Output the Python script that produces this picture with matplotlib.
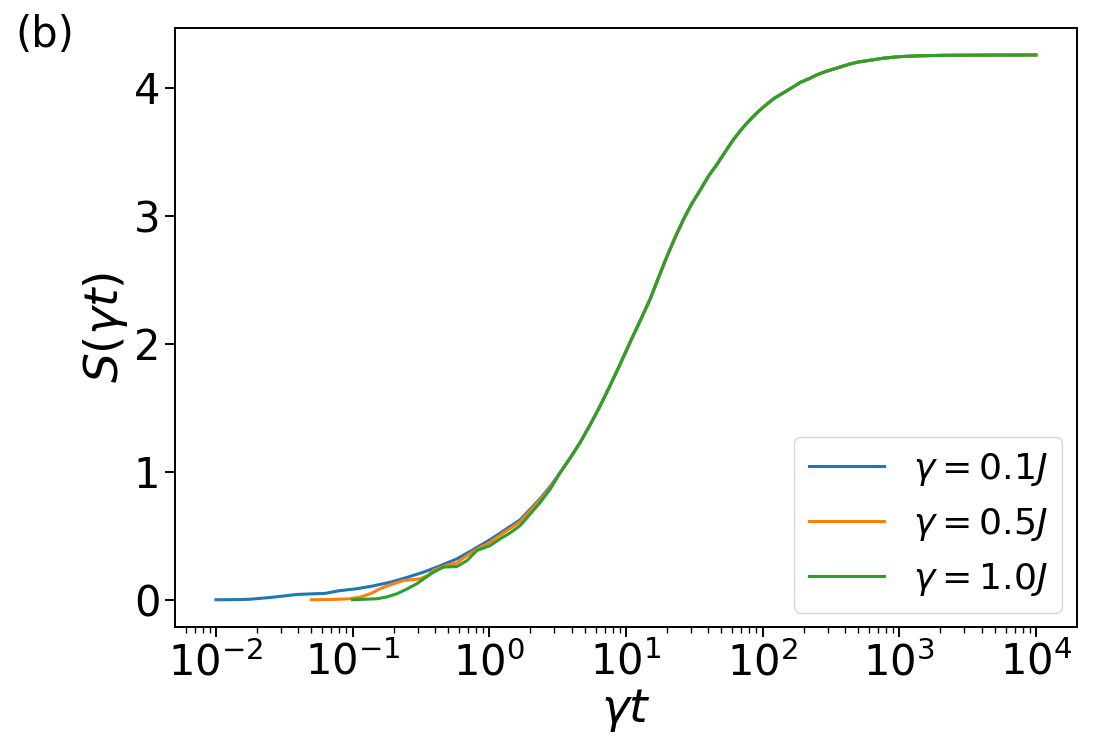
import numpy as np
import matplotlib
matplotlib.use("Agg")
import matplotlib.pyplot as plt
from matplotlib.ticker import LogLocator

# log10(gamma*t) positions and S values
# part where the three curves lie on top of each other
shared_logx = [0.52, 0.6, 0.666, 0.74, 0.812, 0.885, 0.958, 1.03, 1.105, 1.178,
               1.24, 1.30, 1.36, 1.421, 1.48, 1.544, 1.605, 1.666, 1.727, 1.787,
               1.85, 1.909, 1.97, 2.03, 2.09, 2.153, 2.215, 2.275, 2.34, 2.397,
               2.46, 2.519, 2.58, 2.64, 2.70, 2.763, 2.884, 3.0, 3.13, 3.3,
               3.6, 4.0]
shared_s = [0.995, 1.12, 1.23, 1.37, 1.515, 1.675, 1.84, 2.01, 2.18, 2.35,
            2.52, 2.68, 2.83, 2.97, 3.09, 3.20, 3.31, 3.40, 3.50, 3.595,
            3.68, 3.75, 3.815, 3.87, 3.92, 3.96, 4.00, 4.04, 4.07, 4.10,
            4.125, 4.145, 4.165, 4.185, 4.20, 4.21, 4.23, 4.242, 4.248, 4.252,
            4.254, 4.255]

blue_logx = [-2.0, -1.85, -1.75, -1.6, -1.5, -1.4, -1.3, -1.2, -1.1, -0.97,
             -0.85, -0.72, -0.6, -0.48, -0.36, -0.236, -0.12, 0.007, 0.1, 0.227,
             0.373, 0.45]
blue_s = [0.0, 0.001, 0.004, 0.018, 0.03, 0.042, 0.046, 0.05, 0.07, 0.086,
          0.108, 0.138, 0.175, 0.216, 0.265, 0.32, 0.39, 0.47, 0.535, 0.625,
          0.79, 0.89]

orange_logx = [-1.301, -1.15, -1.017, -0.94, -0.87, -0.8, -0.724, -0.627, -0.505, -0.45,
               -0.407, -0.31, -0.236, -0.163, -0.08, 0.007, 0.1, 0.227, 0.373, 0.45]
orange_s = [0.0, 0.002, 0.008, 0.022, 0.047, 0.085, 0.117, 0.15, 0.164, 0.19,
            0.23, 0.27, 0.288, 0.346, 0.40, 0.45, 0.52, 0.61, 0.78, 0.88]

green_logx = [-1.0, -0.82, -0.75, -0.675, -0.6, -0.53, -0.47, -0.407, -0.334, -0.236,
              -0.163, -0.09, 0.007, 0.08, 0.15, 0.227, 0.3, 0.373, 0.45]
green_s = [0.0, 0.008, 0.022, 0.047, 0.085, 0.125, 0.17, 0.216, 0.255, 0.26,
           0.306, 0.385, 0.423, 0.476, 0.52, 0.58, 0.67, 0.76, 0.87]

xticks = [1e-2, 1e-1, 1e0, 1e1, 1e2, 1e3, 1e4]
yticks = [0, 1, 2, 3, 4]

labels = [r"$\gamma = 0.1J$", r"$\gamma = 0.5J$", r"$\gamma = 1.0J$"]
colors = ["#1f77b4", "#ff7f0e", "#2ca02c"]

fig = plt.figure(figsize=(11, 7.5), dpi=100)
ax = fig.add_axes([0.159, 0.164, 0.82, 0.799])

series = [(blue_logx, blue_s), (orange_logx, orange_s), (green_logx, green_s)]
for (lx, s), lab, c in zip(series, labels, colors):
    x = 10 ** np.array(lx + shared_logx)
    ax.plot(x, s + shared_s, color=c, lw=2.2, label=lab)

ax.set_xscale("log")
ax.set_xlim(10 ** -2.3, 10 ** 4.3)
ax.set_xticks(xticks)
ax.xaxis.set_minor_locator(LogLocator(base=10, subs=np.arange(2, 10), numticks=20))
ax.set_yticks(yticks)
ax.set_xlabel(r"$\gamma t$", fontsize=34, labelpad=2)
ax.set_ylabel(r"$S(\gamma t)$", fontsize=34, labelpad=3)
ax.tick_params(axis="both", which="major", labelsize=30, length=7, width=1.4)
ax.tick_params(axis="x", which="minor", length=4, width=1.0)
for sp in ax.spines.values():
    sp.set_linewidth(1.4)

ax.legend(loc="lower right", fontsize=26, handlelength=2.1, borderaxespad=0.4)
fig.text(0.014, 0.953, "(b)", fontsize=30, va="center", ha="left")

fig.savefig("out.png", dpi=100)
